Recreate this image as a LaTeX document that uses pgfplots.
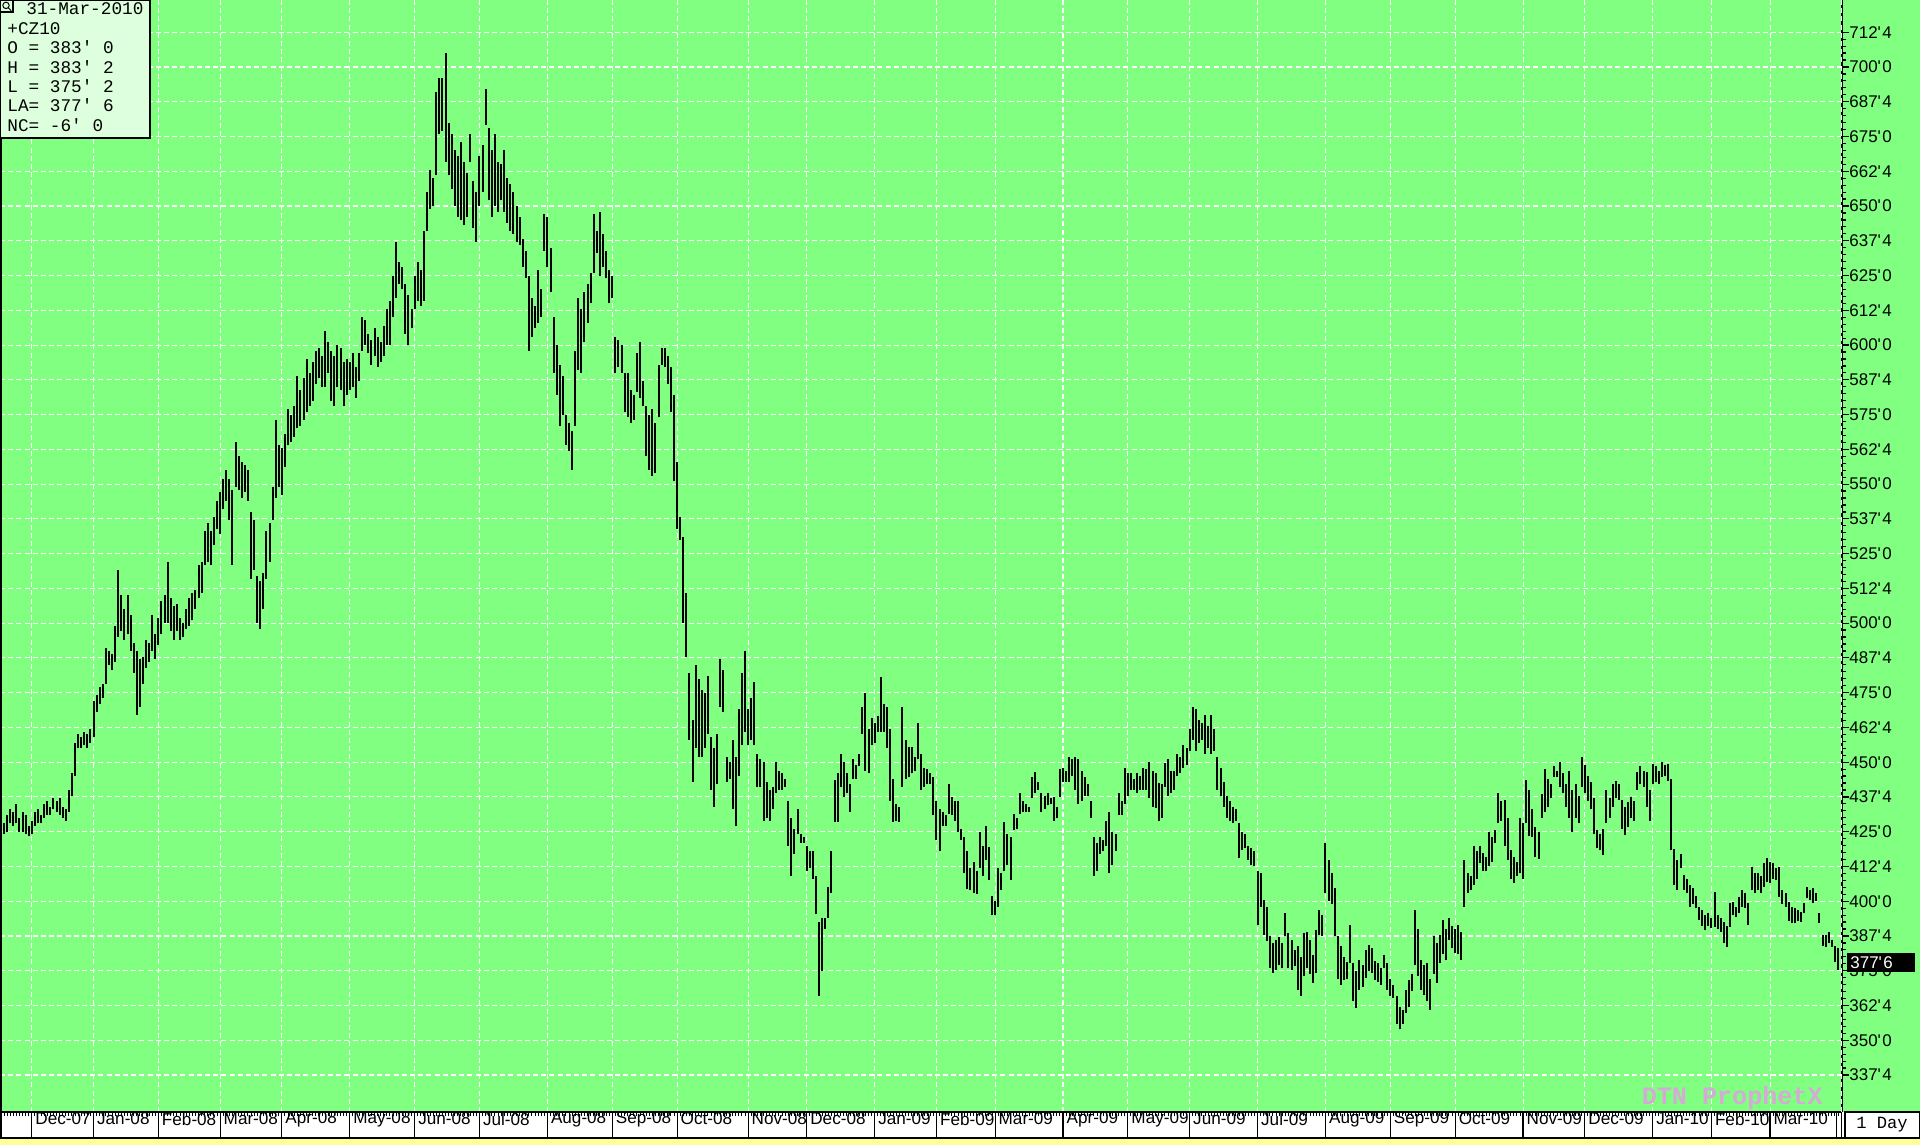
\documentclass[border=0pt]{standalone}
\usepackage{pgfplots}
\pgfplotsset{compat=1.18}
\usepackage{pgfplotstable}
\usepackage{fontspec}
\setmainfont{Liberation Sans}
\newfontfamily\monof{Liberation Mono}
\definecolor{bg}{RGB}{128,255,128}
\definecolor{boxbg}{RGB}{222,255,222}
\definecolor{strip}{RGB}{255,255,153}
\definecolor{wm}{RGB}{214,170,214}
\newcommand\pr[2]{#1\textquotesingle\kern0.7bp #2}

\pgfplotstableread[row sep=\\]{
x h l\\
0 429 423\\1 428 424\\2 431 425\\3 433 428\\4 432 427\\5 435 428\\6 430 425\\7 432 425\\8 431 424\\9 427 423.5\\
10 429 424\\11 432 427\\12 433 428\\13 431 428\\14 435 430\\15 436 431\\16 434 431\\17 437 433\\18 436 432\\19 437 431\\
20 434 430\\21 433 429\\22 440 432\\23 446 438\\24 457 445\\25 460 455\\26 459 455\\27 461 456\\28 460 455\\29 462 457\\
30 472 459\\31 474 468\\32 477 471\\33 478 473\\34 491 478\\35 490 485\\36 489 483\\37 499 486\\38 519 495\\39 510 497\\
40 505 494\\41 510 496\\42 503 490\\43 493 482\\44 490 467\\45 487 470\\46 488 478\\47 494 484\\48 493 486\\49 503 490\\
50 496 487\\51 502 492\\52 508 496\\53 510 500\\54 522 500\\55 509 497\\56 506 494\\57 507 497\\58 502 494\\59 500 495\\
60 505 498\\61 509 499\\62 511 501\\63 512 505\\64 521 509\\65 522 511\\66 533 521\\67 536 522\\68 533 521\\69 538 528\\
70 544 534\\71 547 532\\72 552 541\\73 555 544\\74 552 537\\75 548 521\\76 565 549\\77 560 548\\78 558 545\\79 557 547\\
80 555 544\\81 540 516\\82 537 519\\83 517 500\\84 515 498\\85 518 505\\86 533 516\\87 536 522\\88 549 537\\89 573 545\\
90 564 549\\91 563 546\\92 568 556\\93 577 564\\94 575 565\\95 578 567\\96 589 570\\97 584 571\\98 588 573\\99 595 576\\
100 590 578\\101 594 580\\102 598 586\\103 599 588\\104 596 585\\105 605 585\\106 601 590\\107 598 580\\108 596 578\\109 600 585\\
110 599 584\\111 594 578\\112 595 582\\113 594 584\\114 597 585\\115 592 581\\116 597 587\\117 610 598\\118 609 600\\119 604 597\\
120 602 593\\121 606 596\\122 603 592\\123 601 594\\124 607 596\\125 613 600\\126 616 600\\127 625 610\\128 637 617\\129 630 622\\
130 628 620\\131 622 604\\132 618 600\\133 613 606\\134 625 613\\135 630 616\\136 627 614\\137 641 616\\138 655 641\\139 663 649\\
140 660 650\\141 691 661\\142 696 676\\143 696 677\\144 705 666\\145 680 661\\146 676 656\\147 670 650\\148 668 646\\149 673 645\\
150 666 643\\151 662 646\\152 676 666\\153 659 642\\154 655 637\\155 668 650\\156 672 655\\157 692 679\\158 678 652\\159 670 646\\
160 676 650\\161 666 648\\162 665 652\\163 670 648\\164 660 644\\165 658 641\\166 655 640\\167 650 637\\168 646 636\\169 638 628\\
170 634 624\\171 625 598\\172 617 603\\173 614 606\\174 627 608\\175 620 610\\176 647 634\\177 646 628\\178 635 619\\179 610 590\\
180 600 582\\181 593 571\\182 589 575\\183 575 564\\184 572 562\\185 569 555\\186 598 571\\187 617 591\\188 613 590\\189 619 601\\
190 622 608\\191 626 615\\192 647 626\\193 641 633\\194 648 625\\195 640 628\\196 634 624\\197 627 615\\198 625 617\\199 603 590\\
200 602 592\\201 600 590\\202 590 576\\203 590 574\\204 584 572\\205 582 573\\206 597 583\\207 601 581\\208 587 578\\209 578 560\\
210 575 555\\211 577 553\\212 572 554\\213 593 574\\214 599 593\\215 599 592\\216 596 586\\217 592 576\\218 582 551\\219 558 534\\
220 538 530\\221 531 500\\222 511 488\\223 482 458\\224 465 443\\225 485 455\\226 480 452\\227 476 452\\228 475 455\\229 481 460\\
230 459 440\\231 455 434\\232 460 442\\233 487 470\\234 483 468\\235 452 443\\236 450 444\\237 458 433\\238 452 427\\239 469 445\\
240 482 456\\241 490 461\\242 469 456\\243 473 458\\244 479 456\\245 453 441\\246 451 441\\247 450 429\\248 443 430\\249 440 429\\
250 441 433\\251 450 439\\252 447 440\\253 446 440\\254 444 441\\255 436 420\\256 430 409\\257 426 417\\258 433 424\\259 424 421\\
260 423 421\\261 420 411\\262 418 412\\263 418 408\\264 409 395.5\\265 392.5 366\\266 394 375\\267 394 390\\268 405 394\\269 418 403\\
270 443.5 428.5\\271 446 428.5\\272 453 441\\273 450 437.5\\274 446 439\\275 442 432\\276 451 444\\277 449 444\\278 453 448.5\\279 470 460\\
280 475 447\\281 462 446\\282 466 456\\283 464 457\\284 466.5 461\\285 480.5 461\\286 471 461\\287 470 455\\288 462 436\\289 444 428.5\\
290 435 429\\291 434 428.5\\292 470 441\\293 458 444\\294 455.5 444.6\\295 455.5 446\\296 452 447\\297 464 451\\298 453 440\\299 448 441\\
300 447.6 442\\301 446 442\\302 444.6 430.9\\303 436 422\\304 433 418\\305 432 427\\306 431 427\\307 442 431.5\\308 437.5 431\\309 436 429\\
310 436 425\\311 426 422\\312 423 410\\313 418 404.5\\314 412 404\\315 414 403\\316 411 402.7\\317 425 412\\318 420 409\\319 427 415\\
320 419.5 407.5\\321 402 395\\322 400 395\\323 412 398\\324 410 404\\325 428.5 411\\326 424 413\\327 423 407.5\\328 431.5 425.5\\329 430 426\\
330 439 431.5\\331 436 432\\332 435 432\\333 434 432\\334 444.6 437\\335 446.5 439\\336 443 440\\337 439 432\\338 438 433\\339 439 434.5\\
340 437 435\\341 437.5 429\\342 434 430\\343 447.6 437.5\\344 448 443\\345 447 443\\346 452 443\\347 451 445\\348 452 440\\349 451 435\\
350 447 436\\351 444.6 438\\352 442 438\\353 436 430\\354 423 409\\355 421 411\\356 423 417\\357 422 418\\358 429 420\\359 432 410\\
360 425 413\\361 424 418\\362 439 431\\363 436 431\\364 448 435\\365 446 438\\366 446 440\\367 444 440\\368 446 439\\369 445 440\\
370 448 440\\371 447.6 440\\372 450 437\\373 447 434\\374 446 433.5\\375 442.5 428.7\\376 442 430\\377 449.6 441\\378 451 437.7\\379 447 439\\
380 447 440\\381 453 445\\382 452 446\\383 456 448\\384 455 449\\385 462 454\\386 470 458\\387 469 454\\388 465 457\\389 464 458\\
390 467 453\\391 463 455\\392 467 453\\393 462 454\\394 452 440\\395 448 437.7\\396 443 434\\397 438 430\\398 436 428.7\\399 434 428\\
400 433 429\\401 428 415.5\\402 425 418.5\\403 424 419\\404 420 415\\405 419 413\\406 418 412.5\\407 410.7 391.6\\408 410 398\\409 400.6 388\\
410 398 385.6\\411 387.4 376\\412 385 374.2\\413 386 375.4\\414 387 377\\415 385 376\\416 395.8 387.4\\417 388.6 376\\418 386 375.4\\419 382.6 376.6\\
420 383.8 368\\421 380 366\\422 388.6 373\\423 389 376\\424 386 374\\425 380.8 370.6\\426 389.8 374.2\\427 397 388\\428 395 387.4\\429 421 403\\
430 415 400\\431 410 399\\432 404.7 387.4\\433 387.4 372\\434 384 370\\435 380 371.8\\436 378 372\\437 391.6 377.8\\438 377.8 364\\439 375 361.6\\
440 379 368\\441 377 369\\442 382.6 372.4\\443 384.4 375\\444 383 374.2\\445 378.4 371.8\\446 377.8 371\\447 376 370\\448 380.8 376\\449 377.8 368\\
450 372 365.8\\451 370 365.2\\452 365.8 356\\453 362 353.9\\454 361 356\\455 368 359.8\\456 371.8 362\\457 374 367.6\\458 397 377\\459 390 373\\
460 379 368\\461 377 366.4\\462 377.8 364\\463 372 361\\464 387.4 374\\465 385 370.6\\466 388 377.8\\467 393.4 381\\468 390 379\\469 394 386.2\\
470 391 383\\471 390 381.4\\472 391.6 381\\473 389 379\\474 415 398\\475 410 403\\476 409 404\\477 420 406\\478 418 408\\479 419.7 413.7\\
480 417.3 411\\481 416 410.7\\482 425 412.5\\483 423 414\\484 425.7 421\\485 438.8 428\\486 436 429\\487 436.4 420\\488 430 415\\489 418.5 408\\
490 416 406.5\\491 414 409\\492 430 410\\493 428 408\\494 443.6 428\\495 440 423.3\\496 433 423\\497 426.7 416\\498 425 415.3\\499 438.6 430\\
500 447.6 432\\501 444 434\\502 442 437\\503 448.8 444.6\\504 447 444.6\\505 450 441\\506 446 439\\507 442 434\\508 447 430\\509 440 425\\
510 442 430\\511 438 428\\512 451.8 441\\513 449 439\\514 445 436\\515 443 433\\516 437 424.3\\517 425.5 419\\518 424 418.3\\519 426 416.5\\
520 440 428\\521 437 430\\522 442 434\\523 443.4 437\\524 442 436.3\\525 436.3 426\\526 434 423.7\\527 435.7 426.7\\528 437.5 430\\529 436 429\\
530 446.4 440\\531 448.8 442\\532 447 441\\533 446.4 434\\534 440 429\\535 449.4 442\\536 448.8 443\\537 447 442.2\\538 450 444.6\\539 449 445\\
540 449.4 443.4\\541 444 418.3\\542 418.9 406\\543 415 404\\544 417 411.8\\545 409.4 404\\546 408 402.8\\547 405.8 398\\548 404.6 399\\549 402 397.4\\
550 398 393.2\\551 396.8 391\\552 395 389.6\\553 395.6 391\\554 394 390.2\\555 403.4 390.8\\556 395 390\\557 394 389\\558 392.6 385\\559 391 383.7\\
560 399.2 390.8\\561 399.8 395\\562 398 394.4\\563 401.6 395.6\\564 404 398\\565 403 397.4\\566 399.2 391.4\\567 412.4 404\\568 410 402.8\\569 410 404\\
570 409 402.8\\571 413.6 405.2\\572 415.4 407\\573 414 406.4\\574 413.6 408\\575 412 407.6\\576 412.4 401.6\\577 404 399\\578 403 398\\579 399.8 393\\
580 398 392\\581 397.4 392\\582 396.8 393\\583 396 392.6\\584 399.2 395.6\\585 405.2 401\\586 404 400.4\\587 404.6 399.2\\588 403 400\\589 395.6 392\\
590 387.9 384\\591 388 383.7\\592 389 385\\593 386 383.7\\594 384 378\\595 383.25 375.25\\
}\bars

\begin{document}
\begin{tikzpicture}[x=1bp,y=1bp]
\useasboundingbox (0,-16.5) rectangle (960,556);
\fill[bg] (0,0) rectangle (960,556);
\fill[white] (0,-13) rectangle (960,0);
\fill[strip] (0,-16.5) rectangle (960,-13);
\begin{axis}[
  at={(0,0)}, anchor=south west, scale only axis,
  width=921bp, height=556bp,
  xmin=-0.3, xmax=596.3, ymin=324.2, ymax=724.1,
  axis background/.style={fill=bg},
  axis x line*=bottom, axis y line*=right,
  axis line style={black, line width=1bp},
  tick align=outside,
  major tick length=3.5bp, minor tick length=2.2bp,
  xtick={10,30,51,71,91,113,134,155,177,198,219,242,261,283,303,322,344,365,385,407,429,450,471,493,513,535,554,573},
  xticklabels={Dec-07,Jan-08,Feb-08,Mar-08,Apr-08,May-08,Jun-08,Jul-08,Aug-08,Sep-08,Oct-08,Nov-08,Dec-08,Jan-09,Feb-09,Mar-09,Apr-09,May-09,Jun-09,Jul-09,Aug-09,Sep-09,Oct-09,Nov-09,Dec-09,Jan-10,Feb-10,Mar-10},
  extra x ticks={596}, extra x tick labels={},
  minor xtick={0,1,...,596},
  xtick style={black, line width=0.6bp, /pgfplots/major tick length=13bp},
  minor x tick style={black, line width=0.5bp},
  xticklabel style={font=\fontsize{8.6}{10}\selectfont, anchor=west, inner sep=0pt, xshift=1.6bp},
  ytick={337.5,350,362.5,375,387.5,400,412.5,425,437.5,450,462.5,475,487.5,500,512.5,525,537.5,550,562.5,575,587.5,600,612.5,625,637.5,650,662.5,675,687.5,700,712.5},
  yticklabels={\pr{337}{4},\pr{350}{0},\pr{362}{4},\pr{375}{0},\pr{387}{4},\pr{400}{0},\pr{412}{4},\pr{425}{0},\pr{437}{4},\pr{450}{0},\pr{462}{4},\pr{475}{0},\pr{487}{4},\pr{500}{0},\pr{512}{4},\pr{525}{0},\pr{537}{4},\pr{550}{0},\pr{562}{4},\pr{575}{0},\pr{587}{4},\pr{600}{0},\pr{612}{4},\pr{625}{0},\pr{637}{4},\pr{650}{0},\pr{662}{4},\pr{675}{0},\pr{687}{4},\pr{700}{0},\pr{712}{4}},
  minor y tick num=4,
  ytick style={black, line width=0.6bp},
  yticklabel style={font=\fontsize{8.5}{10}\selectfont, anchor=west, inner sep=0pt},
  grid=major,
  major grid style={white, line width=0.55bp, dash pattern=on 2.5bp off 1.6bp},
]
\addplot[draw=none, mark=none,
  error bars/.cd, y dir=plus, y explicit, error mark=none,
  error bar style={draw=black, solid, line width=1bp}]
  table[x=x, y=l, y error expr=\thisrow{h}-\thisrow{l}] {\bars};
\end{axis}
% frame pieces
\draw[black, line width=1bp] (0.5,-13) -- (0.5,556);
\draw[black, line width=0.8bp] (0,-13) -- (960,-13);
\draw[black, line width=0.6bp] (918.2,-13) -- (918.2,0);
\draw[black, line width=0.7bp, fill=white] (922.5,-13) rectangle (959.6,0);
\node[font=\monof\fontsize{8.6}{10}\selectfont] at (941,-6.5) {1 Day};
% info box
\draw[black, line width=0.8bp, fill=boxbg] (0,487) rectangle (75,556);
\draw[black, line width=0.6bp] (0,550) rectangle (6.5,556);
\draw[black, line width=0.5bp] (3,553.3) circle (1.6);
\draw[black, line width=0.5bp] (4.1,552.2) -- (5.6,550.6);
\begin{scope}[every node/.style={anchor=base west, inner sep=0pt, font=\monof\fontsize{8.9}{10}\selectfont}]
\node at (13,548.5) {31-Mar-2010};
\node at (3.5,538.8) {+CZ10};
\node at (3.5,529.1) {O = 383\textquotesingle{} 0};
\node at (3.5,519.4) {H = 383\textquotesingle{} 2};
\node at (3.5,509.7) {L = 375\textquotesingle{} 2};
\node at (3.5,500.0) {LA= 377\textquotesingle{} 6};
\node at (3.5,490.3) {NC= -6\textquotesingle{} 0};
\end{scope}
% watermark
\node[anchor=east, inner sep=0pt, text=wm, font=\monof\bfseries\fontsize{12.6}{14}\selectfont] at (911.5,7) {DTN ProphetX};
% last price box
\fill[black] (923.5,70) rectangle (957.5,79.5);
\node[anchor=west, inner sep=0pt, text=white, font=\fontsize{8.5}{10}\selectfont] at (925,74.75) {\pr{377}{6}};
\end{tikzpicture}
\end{document}
